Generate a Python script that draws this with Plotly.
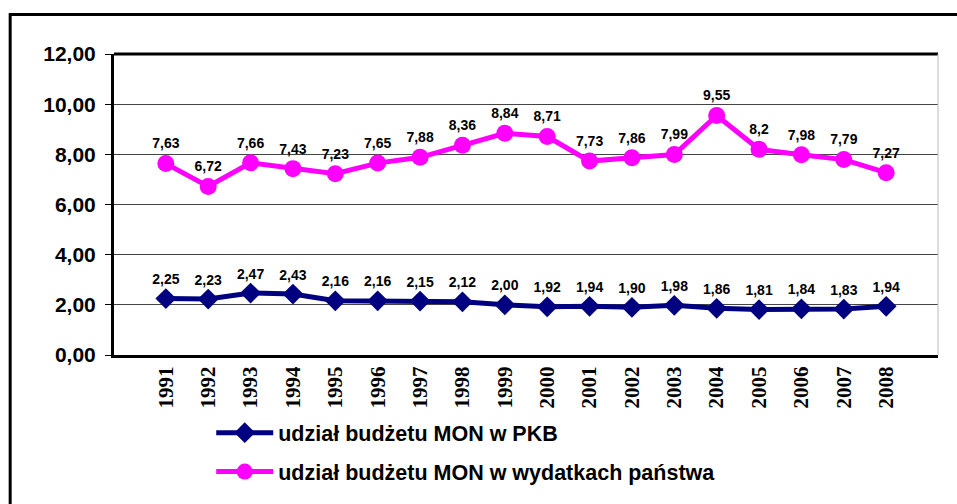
import plotly.graph_objects as go

years = [str(y) for y in range(1991, 2009)]
pkb = [2.25, 2.23, 2.47, 2.43, 2.16, 2.16, 2.15, 2.12, 2.00, 1.92, 1.94, 1.90, 1.98, 1.86, 1.81, 1.84, 1.83, 1.94]
pkb_labels = ["2,25", "2,23", "2,47", "2,43", "2,16", "2,16", "2,15", "2,12", "2,00", "1,92", "1,94", "1,90", "1,98", "1,86", "1,81", "1,84", "1,83", "1,94"]
wyd = [7.63, 6.72, 7.66, 7.43, 7.23, 7.65, 7.88, 8.36, 8.84, 8.71, 7.73, 7.86, 7.99, 9.55, 8.2, 7.98, 7.79, 7.27]
wyd_labels = ["7,63", "6,72", "7,66", "7,43", "7,23", "7,65", "7,88", "8,36", "8,84", "8,71", "7,73", "7,86", "7,99", "9,55", "8,2", "7,98", "7,79", "7,27"]
series_names = ["udział budżetu MON w PKB", "udział budżetu MON w wydatkach państwa"]

fig = go.Figure()
fig.add_trace(go.Scatter(
    x=years, y=pkb, name=series_names[0], mode="lines+markers+text",
    text=pkb_labels, textposition="top center",
    textfont=dict(family="Liberation Sans, Arial", size=14, color="black", weight="bold"),
    line=dict(color="#000080", width=5),
    marker=dict(symbol="diamond", size=16, color="#000080"),
    legendgroup="a", hoverinfo="skip",
))
fig.add_trace(go.Scatter(
    x=years, y=wyd, name=series_names[1], mode="lines+markers+text",
    text=wyd_labels, textposition="top center",
    textfont=dict(family="Liberation Sans, Arial", size=14, color="black", weight="bold"),
    line=dict(color="#FF00FF", width=5),
    marker=dict(symbol="circle", size=17, color="#FF00FF"),
    legendgroup="b", hoverinfo="skip",
))

fig.update_layout(
    width=957, height=504,
    margin=dict(l=114, r=19, t=54, b=145),
    paper_bgcolor="white", plot_bgcolor="white",
    separators=", ",
    showlegend=True,
    legend=dict(
        x=0.118, y=-0.19, xanchor="left", yanchor="top",
        font=dict(family="Liberation Sans, Arial", size=21.5, color="black", weight="bold"),
        itemwidth=57, tracegroupgap=8, bgcolor="rgba(0,0,0,0)",
    ),
    xaxis=dict(
        type="category", tickangle=-90,
        tickfont=dict(family="Liberation Serif, Times New Roman", size=21, color="black", weight="bold"),
        showline=True, linecolor="black", linewidth=3, showgrid=False,
        ticks="", fixedrange=True, automargin=False,
    ),
    yaxis=dict(
        range=[0, 12], dtick=2, tickformat=".2f",
        tickfont=dict(family="Liberation Sans, Arial", size=21, color="black", weight="bold"),
        showline=True, linecolor="black", linewidth=3,
        gridcolor="#444444", gridwidth=1,
        ticks="outside", ticklen=6, tickcolor="black", zeroline=False,
        ticklabelstandoff=5, fixedrange=True, automargin=False,
    ),
    shapes=[
        dict(type="line", xref="paper", yref="paper", x0=0, x1=1, y0=1, y1=1,
             line=dict(color="black", width=3)),
        dict(type="line", xref="paper", yref="paper", x0=1, x1=1, y0=0, y1=1,
             line=dict(color="#BBBBBB", width=1)),
        dict(type="rect", xref="paper", yref="paper", x0=-0.126, x1=1.3, y0=-0.6, y1=1.131,
             line=dict(color="black", width=3), layer="below"),
    ],
)

fig.write_html("out.html", config={"displayModeBar": False},
               post_script="document.body.style.margin='0';document.body.style.overflow='hidden';")
